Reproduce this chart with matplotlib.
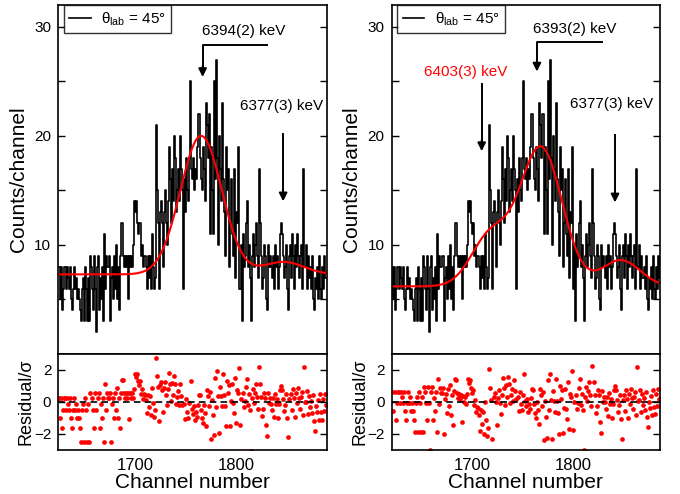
import numpy as np
import matplotlib
matplotlib.use("Agg")
import matplotlib.pyplot as plt
from matplotlib.ticker import FixedLocator

plt.rcParams["font.family"] = ["Liberation Sans", "DejaVu Sans"]
plt.rcParams["mathtext.fontset"] = "custom"
plt.rcParams["mathtext.rm"] = "Liberation Sans"
plt.rcParams["mathtext.it"] = "Liberation Sans:italic"

# counts per channel (theta_lab = 45 deg), first channel 1624
counts = [
    8, 8, 5, 8, 4, 6, 8, 8, 6, 8,
    7, 6, 8, 5, 4, 6, 8, 6, 7, 5,
    6, 5, 4, 3, 6, 7, 3, 8, 6, 3,
    7, 3, 9, 8, 6, 4, 9, 6, 2, 8,
    9, 4, 7, 5, 8, 3, 11, 6, 9, 8,
    8, 9, 3, 7, 8, 5, 9, 6, 10, 5,
    8, 4, 9, 12, 12, 9, 8, 9, 8, 9,
    5, 9, 8, 9, 8, 10, 14, 13, 14, 12,
    11, 12, 9, 10, 8, 9, 9, 8, 6, 9,
    7, 9, 6, 11, 8, 6, 7, 21, 15, 12,
    6, 13, 14, 12, 8, 13, 15, 12, 10, 14,
    19, 16, 12, 17, 14, 20, 18, 13, 15, 17,
    14, 20, 17, 15, 6, 16, 13, 18, 15, 14,
    18, 25, 17, 16, 18, 15, 17, 16, 19, 22,
    22, 18, 16, 15, 19, 17, 14, 23, 21, 18,
    22, 11, 19, 15, 11, 25, 16, 27, 18, 10,
    20, 17, 14, 23, 16, 13, 9, 19, 15, 17,
    8, 12, 16, 11, 9, 17, 7, 13, 12, 19,
    6, 10, 3, 11, 8, 9, 12, 14, 8, 10,
    7, 3, 9, 11, 8, 10, 12, 9, 7, 17,
    12, 9, 6, 7, 10, 9, 5, 4, 10, 8,
    9, 8, 7, 9, 6, 10, 8, 9, 6, 8,
    11, 12, 11, 9, 7, 8, 10, 6, 4, 9,
    10, 7, 11, 9, 6, 10, 8, 11, 9, 7,
    9, 10, 6, 17, 8, 8, 10, 6, 9, 7,
    8, 6, 9, 5, 4, 7, 6, 8, 5, 9,
    6, 5, 8, 6, 9, 7,
]
first_channel_left = 1624
first_channel_right = 1620

# fit results: one peak + 6377 keV line (left), extra 6403 keV component (right)
bg_left = 7.3
centroids_left = [1765.5, 1847.0]
amplitudes_left = [12.7, 1.15]
widths_left = [20.5, 20.0]

bg_right = 6.2
centroids_right = [1718.0, 1768.0, 1847.0]
amplitudes_right = [4.6, 12.7, 2.4]
widths_right = [19.0, 21.0, 19.0]

xlim_left = (1624.1, 1889.8)
xlim_right = (1620.2, 1885.9)

# labels: (text, colour, text x, text y, arrow path in data coords)
labels_left = [
    ("6394(2) keV", "black", 1808, 29.6, [(1831, 28.3), (1767, 28.3), (1767, 25.4)]),
    ("6377(3) keV", "black", 1845, 22.7, [(1846.7, 20.2), (1846.7, 14.0)]),
]
labels_right = [
    ("6393(2) keV", "black", 1801, 29.8, [(1828, 28.6), (1764, 28.6), (1764, 25.9)]),
    ("6403(3) keV", "red", 1693, 25.9, [(1709.3, 24.8), (1709.3, 18.6)]),
    ("6377(3) keV", "black", 1838, 22.9, [(1841.3, 20.1), (1841.3, 13.9)]),
]


def fit_curve(ch, bg, cents, amps, wids):
    y = np.full_like(ch, bg, dtype=float)
    for c, a, w in zip(cents, amps, wids):
        y += a * np.exp(-(ch - c) ** 2 / (2 * w ** 2))
    return y


def style_axis(ax):
    for s in ax.spines.values():
        s.set_linewidth(1.2)
    ax.tick_params(direction="in", length=5, width=1.0, right=True,
                   labelsize=11, pad=5)


def draw_panel(left, first_ch, xlim, bg, cents, amps, wids, labels):
    ax = fig.add_axes([left, 0.2834, 0.3947, 0.7065])
    axr = fig.add_axes([left, 0.0891, 0.3947, 0.1943])
    y = np.array(counts, dtype=float)
    ch = first_ch + np.arange(len(y))

    ax.step(ch, y, where="mid", color="black", lw=1.2,
            label=r"θ$_{\mathrm{lab}}$ = 45°")
    xf = np.linspace(xlim[0], xlim[1], 800)
    ax.plot(xf, fit_curve(xf, bg, cents, amps, wids), color="red", lw=1.5)

    ax.set_xlim(*xlim)
    ax.set_ylim(0, 32)
    ax.yaxis.set_major_locator(FixedLocator([10, 20, 30]))
    ax.yaxis.set_minor_locator(FixedLocator([5, 15, 25]))
    ax.tick_params(which="minor", direction="in", length=5, width=1.0, right=True)
    ax.set_xticks([])
    style_axis(ax)
    ax.set_ylabel("Counts/channel", fontsize=15)
    ax.yaxis.set_label_coords(-0.113, 0.5)

    for text, col, tx, ty, path in labels:
        ax.text(tx, ty, text, color=col, fontsize=11, ha="center", va="center")
        px = [p[0] for p in path]
        py = [p[1] for p in path]
        ax.plot(px, py[:-1] + [py[-1] + 0.9], color="black", lw=1.4)
        ax.annotate("", xy=path[-1], xytext=(px[-1], py[-1] + 1.0),
                    arrowprops=dict(arrowstyle="-|>", color="black", lw=1.4,
                                    mutation_scale=12, shrinkA=0, shrinkB=0))

    leg = ax.legend(loc="upper left", bbox_to_anchor=(0.021, 1.0), borderaxespad=0,
                    fancybox=False, edgecolor="black", fontsize=11,
                    handlelength=1.4, handletextpad=0.7, borderpad=0.35)
    leg.get_frame().set_linewidth(1.0)
    leg.get_lines()[0].set_linewidth(1.2)

    resid = (y - fit_curve(ch, bg, cents, amps, wids)) / np.sqrt(y)
    axr.plot(ch, resid, "o", color="red", ms=3.4, mec="none")
    axr.axhline(0, color="black", ls=(0, (4, 2.5)), lw=1.2)
    axr.set_xlim(*xlim)
    axr.set_ylim(-3, 3)
    axr.set_yticks([-2, 0, 2])
    axr.set_xticks([1700, 1800])
    style_axis(axr)
    axr.tick_params(axis="x", length=0, labelsize=12, pad=6)
    axr.set_ylabel("Residual/σ", fontsize=13)
    axr.yaxis.set_label_coords(-0.087, 0.5)
    axr.set_xlabel("Channel number", fontsize=15, labelpad=0)


fig = plt.figure(figsize=(6.8, 4.94), dpi=100)
draw_panel(0.0857, first_channel_left, xlim_left, bg_left,
           centroids_left, amplitudes_left, widths_left, labels_left)
draw_panel(0.576, first_channel_right, xlim_right, bg_right,
           centroids_right, amplitudes_right, widths_right, labels_right)
fig.savefig("out.png", dpi=100)
